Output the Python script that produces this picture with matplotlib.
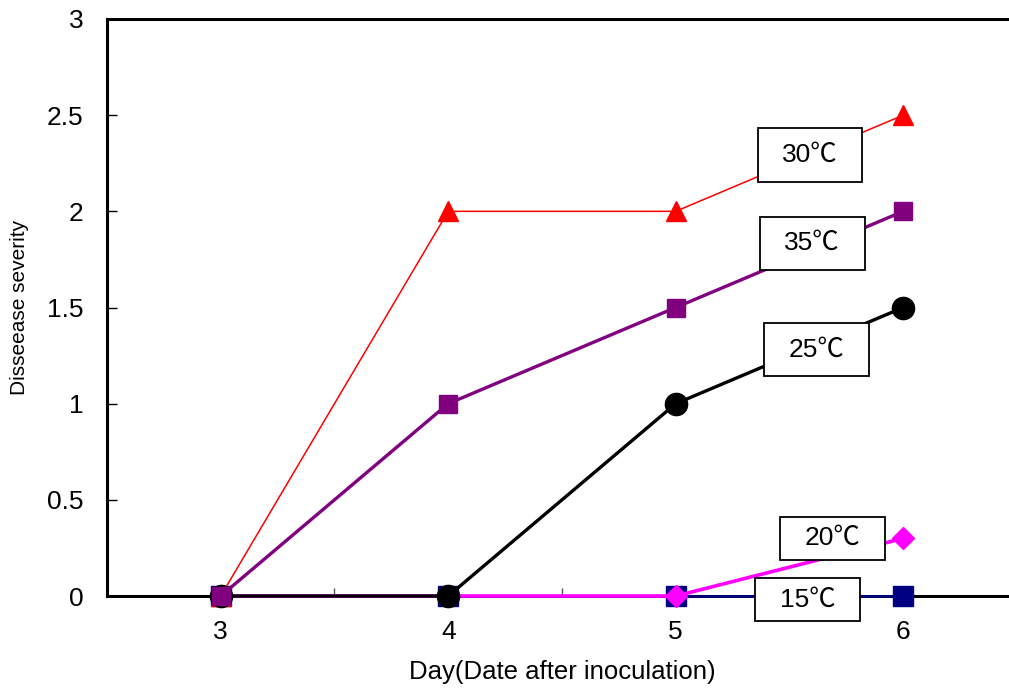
import matplotlib.pyplot as plt
from matplotlib.patches import Rectangle
from matplotlib.ticker import FixedLocator

plt.rcParams['font.family'] = ['Liberation Sans', 'Noto Sans CJK KR']

days = [3, 4, 5, 6]
t15 = [0, 0, 0, 0]
t20 = [0, 0, 0, 0.3]
t25 = [0, 0, 1, 1.5]
t30 = [0, 2, 2, 2.5]
t35 = [0, 1, 1.5, 2]

fig = plt.figure(figsize=(10.09, 6.88), dpi=100)
ax = fig.add_axes([0.106, 0.1337, 0.894, 0.8387])

ax.plot(days, t15, color='#000080', lw=2.0, marker='s', ms=14, zorder=3, clip_on=False)
ax.plot(days, t20, color='#ff00ff', lw=2.6, marker='D', ms=11, zorder=3, clip_on=False)
ax.plot(days, t30, color='#ff0000', lw=1.1, marker='^', ms=15, zorder=3, clip_on=False)
ax.plot(days, t25, color='black', lw=2.4, marker='o', ms=16, zorder=3, clip_on=False)
ax.plot(days, t35, color='#800080', lw=2.4, marker='s', ms=13, zorder=3, clip_on=False)

# label boxes (center x, center y, height in data units)
labels = ['30℃', '35℃', '25℃', '20℃', '15℃']
box_x = [5.59, 5.60, 5.62, 5.69, 5.58]
box_y = [2.293, 1.835, 1.28, 0.30, -0.02]
box_h = [0.276, 0.276, 0.276, 0.224, 0.224]
bw = 0.46
for lab, cx, cy, h in zip(labels, box_x, box_y, box_h):
    ax.add_patch(Rectangle((cx - bw / 2, cy - h / 2), bw, h, facecolor='white',
                           edgecolor='black', lw=1.3, zorder=5, clip_on=False))
    ax.text(cx, cy, lab, ha='center', va='center', fontsize=19, zorder=6)

ax.set_xlim(2.5, 2.5 + 902 / 227.5)
ax.set_ylim(0, 3)

ax.set_yticks([0, 0.5, 1, 1.5, 2, 2.5, 3])
ax.set_yticklabels(['0', '0.5', '1', '1.5', '2', '2.5', '3'])
ax.tick_params(axis='y', direction='in', length=7, width=1, pad=17, labelsize=19)

ax.xaxis.set_major_locator(FixedLocator([3.5, 4.5, 5.5]))
ax.xaxis.set_minor_locator(FixedLocator(days))
ax.set_xticklabels([], minor=False)
ax.set_xticklabels([str(d) for d in days], minor=True)
ax.tick_params(axis='x', which='major', direction='in', length=6, width=1, color='#555555')
ax.tick_params(axis='x', which='minor', length=0, pad=17, labelsize=19)

for s in ['left', 'top', 'bottom']:
    ax.spines[s].set_linewidth(2.2)
ax.spines['right'].set_visible(False)

ax.set_xlabel('Day(Date after inoculation)', fontsize=18.5, va='center')
ax.xaxis.set_label_coords(2 / (902 / 227.5), -0.132)
ax.set_ylabel('Disseease severity', fontsize=15, va='center')
ax.yaxis.set_label_coords(-0.0965, 0.5)

fig.savefig('out.png', dpi=100)
